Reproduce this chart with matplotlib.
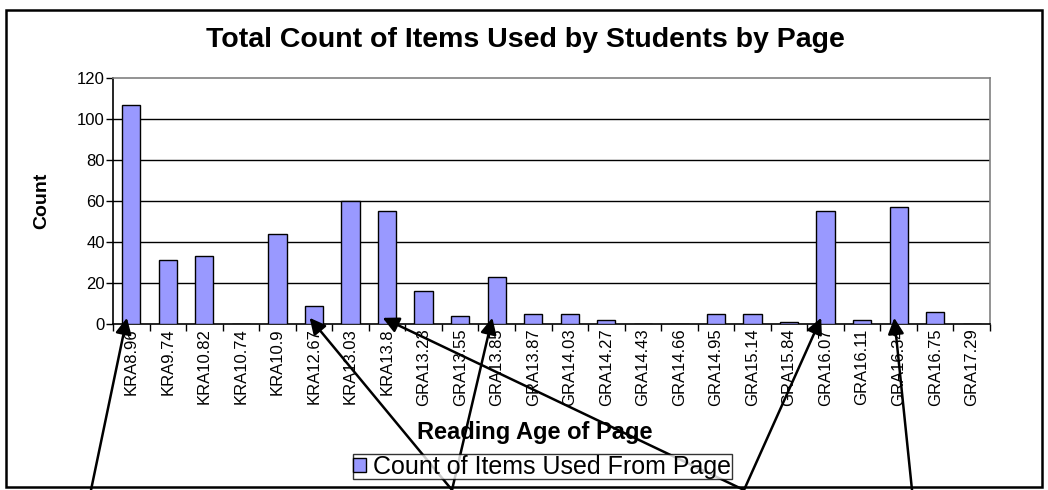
import matplotlib
matplotlib.use("Agg")
import matplotlib.pyplot as plt
from matplotlib.patches import Rectangle, Patch
import numpy as np

plt.rcParams['font.family'] = ['Liberation Sans', 'DejaVu Sans']

categories = ["KRA8.96", "KRA9.74", "KRA10.82", "KRA10.74", "KRA10.9", "KRA12.67",
              "KRA13.03", "KRA13.8", "GRA13.23", "GRA13.55", "GRA13.85", "GRA13.87",
              "GRA14.03", "GRA14.27", "GRA14.43", "GRA14.66", "GRA14.95", "GRA15.14",
              "GRA15.84", "GRA16.07", "GRA16.11", "GRA16.34", "GRA16.75", "GRA17.29"]
counts = [107, 31, 33, 0, 44, 9, 60, 55, 16, 4, 23, 5, 5, 2, 0, 0, 5, 5, 1, 55, 2, 57, 6, 0]
y_ticks = [0, 20, 40, 60, 80, 100, 120]

# arrows: (target category, tail x in figure pixels)
arrow_targets = ["KRA8.96", "KRA12.67", "GRA13.85", "KRA13.8", "GRA16.07", "GRA16.34"]
arrow_tails_px = [91, 452, 452, 744, 744, 912]

W, H = 1048, 490
fig = plt.figure(figsize=(W / 100, H / 100), dpi=100)
fig.patch.set_facecolor('white')

left, right, bottom, top = 113, 990, 324, 78
ax = fig.add_axes([left / W, 1 - bottom / H, (right - left) / W, (bottom - top) / H])

x = np.arange(len(categories))
ax.bar(x, counts, width=0.5, color='#9999FF', edgecolor='black', linewidth=1, zorder=3)

ax.set_xlim(-0.5, len(categories) - 0.5)
ax.set_ylim(0, 120)
ax.set_yticks(y_ticks)
ax.set_yticklabels([str(v) for v in y_ticks], fontsize=12)
for v in y_ticks[1:-1]:
    ax.axhline(v, color='black', linewidth=1, zorder=1)

ax.set_xticks(x)
ax.set_xticklabels(categories, rotation=90, fontsize=12)
ax.tick_params(axis='x', which='major', length=0, pad=3)
ax.set_xticks(np.arange(-0.5, len(categories), 1), minor=True)
ax.tick_params(axis='x', which='minor', length=5, direction='out', width=1)
ax.tick_params(axis='y', length=5, direction='out', width=1, pad=1)

ax.spines['left'].set_color('black')
ax.spines['bottom'].set_color('black')
ax.spines['top'].set_color('#808080')
ax.spines['right'].set_color('#808080')
for s in ax.spines.values():
    s.set_linewidth(1.2)

fig.text(525 / W, 1 - 40 / H, "Total Count of Items Used by Students by Page",
         ha='center', va='center', fontsize=20.5, fontweight='bold')
fig.text(42 / W, 1 - 201 / H, "Count", rotation=90, ha='center', va='center',
         fontsize=14, fontweight='bold')
fig.text(535 / W, 1 - 432 / H, "Reading Age of Page", ha='center', va='center',
         fontsize=17, fontweight='bold')

leg = fig.legend(handles=[Patch(facecolor='#9999FF', edgecolor='black', label='Count of Items Used From Page')],
                 loc='center', bbox_to_anchor=(542 / W, 1 - 466.5 / H), fontsize=18,
                 frameon=True, fancybox=False, handlelength=0.5, handleheight=0.5,
                 handletextpad=0.3, borderpad=0.02, borderaxespad=0)
leg.get_frame().set_edgecolor('black')
leg.get_frame().set_linewidth(1)

fig.add_artist(Rectangle((6 / W, 1 - 487 / H), (1042 - 6) / W, (487 - 10) / H,
                         transform=fig.transFigure, fill=False, edgecolor='black', linewidth=1.8))

idx = {c: i for i, c in enumerate(categories)}
for tgt, tail in zip(arrow_targets, arrow_tails_px):
    ax.annotate('', xy=(idx[tgt] - 0.12, 3), xycoords='data',
                xytext=(tail / W, 0), textcoords='figure fraction',
                arrowprops=dict(arrowstyle='-|>', color='black', lw=1.8, mutation_scale=24,
                                shrinkA=0, shrinkB=0),
                annotation_clip=False, zorder=10)

fig.savefig('out.png', dpi=100)
